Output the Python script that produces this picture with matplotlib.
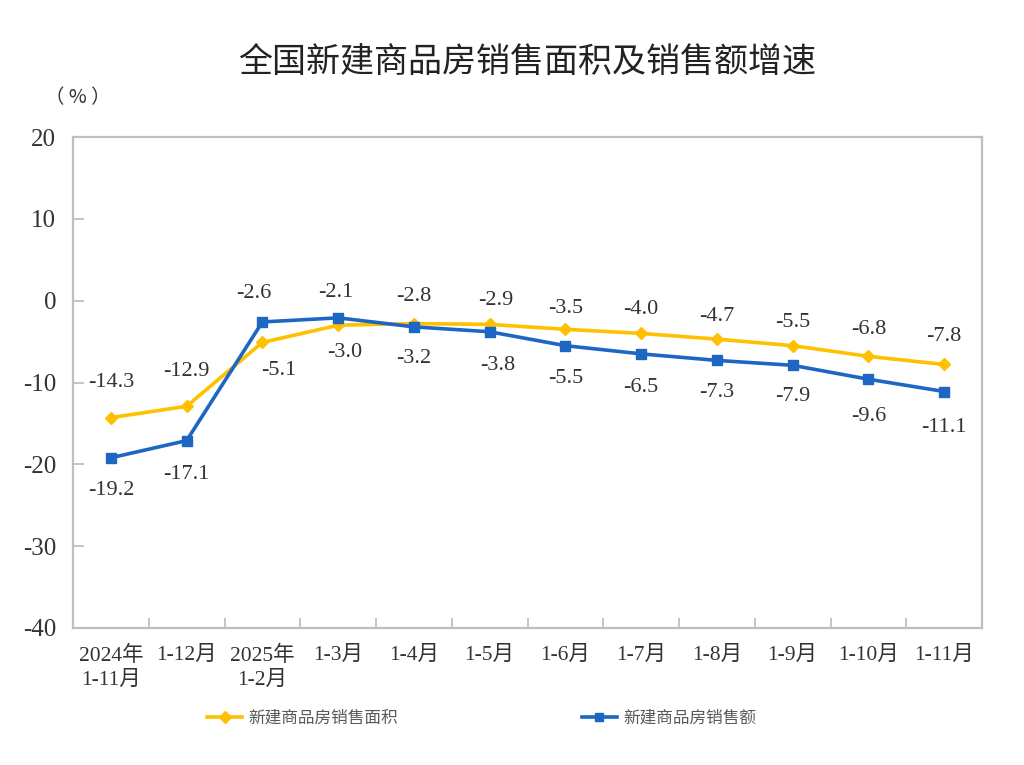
import matplotlib
matplotlib.use("Agg")
import matplotlib.pyplot as plt
from matplotlib.lines import Line2D

plt.rcParams['font.family'] = ['Liberation Serif', 'Noto Sans CJK SC']

categories = ["2024年\n1-11月", "1-12月", "2025年\n1-2月", "1-3月", "1-4月", "1-5月",
              "1-6月", "1-7月", "1-8月", "1-9月", "1-10月", "1-11月"]
area = [-14.3, -12.9, -5.1, -3.0, -2.8, -2.9, -3.5, -4.0, -4.7, -5.5, -6.8, -7.8]
sales = [-19.2, -17.1, -2.6, -2.1, -3.2, -3.8, -5.5, -6.5, -7.3, -7.9, -9.6, -11.1]

# label offsets in pixels (dx, dy)
area_off = [(0, 35), (0, 35), (16, -28), (7, -27), (0, 27), (6, 24),
            (0, 21), (0, 24), (0, 23), (0, 23), (0, 27), (0, 28)]
sales_off = [(0, -33), (0, -34), (-9, 28), (-2, 25), (0, -32), (8, -34),
             (0, -33), (0, -34), (0, -32), (0, -31), (0, -37), (0, -36)]

yellow = "#FFC000"
blue = "#1D66C3"
grey = "#BFBFBF"
txt = "#333333"

fig = plt.figure(figsize=(10.24, 7.65), dpi=100)
ax = fig.add_axes([0.0713, 0.1791, 0.8877, 0.6418])

x = list(range(len(categories)))
ax.plot(x, area, color=yellow, lw=2.6, marker="D", ms=6.5, zorder=3)
ax.plot(x, sales, color=blue, lw=2.6, marker="s", ms=6.5, zorder=4)

for i in x:
    ax.annotate(f"{area[i]:.1f}", (i, area[i]), xytext=area_off[i], textcoords="offset pixels",
                ha="center", va="center", fontsize=16, color=txt)
    ax.annotate(f"{sales[i]:.1f}", (i, sales[i]), xytext=sales_off[i], textcoords="offset pixels",
                ha="center", va="center", fontsize=16, color=txt)

ax.set_xlim(-0.5, len(categories) - 0.5)
ax.set_ylim(-40, 20)
ax.set_yticks(range(-40, 21, 10))
ax.set_yticklabels([str(v) for v in range(-40, 21, 10)], fontsize=18, color=txt)
ax.set_xticks(x)
ax.set_xticklabels(categories, fontsize=15.5, color=txt, linespacing=1.35)
ax.set_xticks([i + 0.5 for i in x[:-1]], minor=True)

ax.tick_params(axis="x", which="major", length=0, pad=13)
ax.tick_params(axis="x", which="minor", direction="in", length=7, color=grey, width=1.3)
ax.tick_params(axis="y", direction="in", length=8, color=grey, width=1.3, pad=12)
for s in ax.spines.values():
    s.set_color(grey)
    s.set_linewidth(1.6)

fig.text(0.515, 0.918, "全国新建商品房销售面积及销售额增速", ha="center", va="center",
         fontsize=24.5, family=["Noto Sans CJK SC"], weight="medium", color="#222222")
fig.text(0.076, 0.873, "（ % ）", ha="center", va="center", fontsize=14,
         family=["Noto Sans CJK SC"], color=txt)

handles = [Line2D([], [], color=yellow, lw=2.6, marker="D", ms=6),
           Line2D([], [], color=blue, lw=2.6, marker="s", ms=6)]
fig.legend(handles, ["新建商品房销售面积", "新建商品房销售额"], loc="center",
           bbox_to_anchor=(0.4705, 0.061), ncol=2, frameon=False, fontsize=12,
           handlelength=2.1, handletextpad=0.4, columnspacing=11,
           labelcolor="#595959")

fig.savefig("out.png", dpi=100)
